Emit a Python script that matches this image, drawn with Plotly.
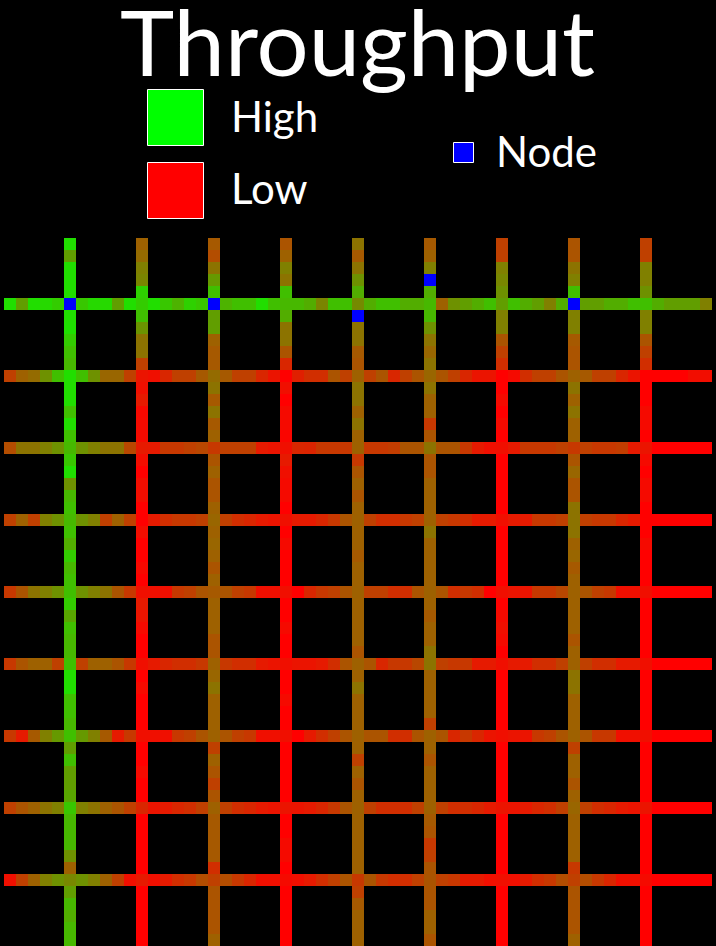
import numpy as np
import plotly.graph_objects as go

# ---------------- data: throughput (% of max, 0 = low/red, 100 = high/green) ----------------
GRID_SIZE = 59
LINE_INDEX = [5, 11, 17, 23, 29, 35, 41, 47, 53]

# horizontal links (one list per grid row, values for columns 0..58)
row05 = [87,62,87,85,80,80,78,85,85,62,87,80,87,78,70,82,78,75,70,75,75,87,75,72,72,68,52,75,75,54,
         68,75,75,68,68,72,38,57,62,68,75,62,75,68,62,50,68,62,62,62,68,68,75,75,68,62,62,62,50]
row11 = [25,38,42,57,75,87,75,57,40,40,25,8,6,15,25,25,35,42,35,25,25,15,8,0,12,18,18,33,25,38,
         25,33,15,25,33,40,33,25,15,8,8,0,4,18,25,25,33,38,35,25,25,15,8,0,0,0,0,5,5]
row17 = [30,45,45,50,57,72,57,50,45,45,28,10,10,22,22,25,28,22,25,25,25,10,8,6,15,14,22,22,22,38,
         22,22,24,33,33,45,33,33,22,10,6,6,10,22,22,22,25,22,25,22,22,24,10,8,0,0,0,0,0]
row23 = [25,38,25,50,57,72,57,50,25,38,25,0,10,18,22,22,25,40,25,18,15,10,8,6,10,10,15,22,33,38,
         25,18,18,22,25,38,25,22,18,10,10,6,10,10,22,22,25,45,25,22,22,15,10,0,0,0,0,0,0]
row29 = [22,33,45,50,57,75,57,50,45,33,22,6,6,6,22,25,33,35,33,25,22,6,6,6,0,15,22,25,33,38,
         25,25,18,18,33,38,33,18,22,18,0,6,8,8,22,22,28,38,33,25,22,6,6,6,0,0,0,0,0]
row35 = [22,33,38,38,25,75,25,38,38,33,22,6,10,15,18,18,22,38,22,18,18,10,8,6,8,8,10,18,33,38,
         33,15,22,22,28,45,25,22,22,10,10,6,10,10,18,18,25,38,25,18,18,10,10,6,0,0,0,0,0]
row41 = [22,10,35,50,60,75,60,50,35,10,22,6,6,6,22,25,33,38,33,25,22,6,6,6,0,10,18,25,33,38,
         33,33,18,18,33,38,33,15,22,15,8,6,8,8,22,25,33,38,33,22,22,6,6,6,0,0,0,0,0]
row47 = [25,33,38,45,50,78,50,45,38,33,25,15,8,10,15,18,25,38,25,18,15,10,8,8,8,10,15,22,33,38,
         25,18,18,18,25,38,25,18,18,15,10,8,8,10,15,18,25,40,25,18,15,10,8,8,0,0,0,0,0]
row53 = [6,25,38,50,57,53,57,50,38,25,6,10,6,10,18,22,30,25,30,22,15,6,6,4,6,10,18,25,33,22,
         33,22,18,18,25,33,25,22,10,10,6,6,6,10,18,22,30,25,30,22,15,6,6,4,0,0,0,0,0]

# vertical links (one list per grid column, values for rows 0..58)
col05 = [87,62,87,87,87,80,87,88,80,75,72,87,87,87,75,87,75,72,78,87,57,72,75,72,75,68,80,72,75,75,
         80,65,75,72,72,75,87,87,75,75,72,75,62,75,62,62,65,78,72,72,72,57,38,53,62,72,68,72,72]
col11 = [38,42,50,52,82,80,75,58,45,45,25,8,6,10,3,4,4,10,5,0,5,5,0,0,5,0,0,3,0,6,
         10,8,4,0,0,6,0,4,0,0,0,6,0,0,4,0,0,15,0,0,0,0,0,10,0,0,0,0,0]
col17 = [35,30,45,60,75,75,62,62,38,35,35,42,45,35,45,35,38,22,33,38,33,33,38,40,38,40,38,33,38,35,
         38,38,38,33,33,38,40,45,38,38,38,38,25,38,33,25,33,38,35,35,35,35,18,25,33,33,33,33,38]
col23 = [33,38,50,45,75,72,68,45,45,33,15,0,6,0,4,4,2,6,10,6,4,4,0,6,0,4,0,0,0,6,
         0,0,4,0,0,6,0,0,4,0,0,6,0,0,0,0,0,8,0,0,4,4,0,4,0,0,0,0,0]
col29 = [45,35,45,57,68,54,45,45,45,35,33,38,45,45,38,45,38,38,22,33,38,33,38,38,38,38,35,38,38,38,
         38,38,38,38,33,38,38,45,38,38,38,38,38,25,38,33,38,38,38,38,38,38,38,22,25,35,38,38,38]
col35 = [35,38,50,60,68,72,72,57,45,40,45,40,45,38,38,22,33,45,33,33,38,38,38,38,45,38,38,38,38,38,
         38,35,38,38,45,45,38,38,38,38,25,38,38,33,38,38,38,38,35,33,22,25,33,33,33,33,38,38,33]
col41 = [25,25,50,53,57,62,50,50,33,25,18,0,0,4,0,4,0,6,0,0,0,0,0,0,0,0,0,0,0,6,
         0,4,6,4,0,6,0,0,0,0,0,6,0,0,0,0,0,6,0,0,0,0,0,6,0,0,0,0,0]
col47 = [33,33,45,50,75,62,50,50,35,33,33,38,45,38,45,38,38,22,33,40,33,33,45,45,45,38,40,35,38,38,
         38,38,38,33,38,38,45,45,38,38,38,38,25,38,38,33,38,40,38,38,38,38,22,25,33,33,33,33,38]
col53 = [25,25,50,50,57,75,50,50,33,25,18,0,0,0,4,4,0,6,4,0,4,4,0,0,0,4,0,0,0,6,
         0,0,0,0,0,6,0,0,0,0,0,6,0,0,0,0,0,6,0,0,0,0,0,6,0,0,0,0,0]

# routers / nodes (row, column)
node_rows = [5, 5, 6, 3, 5]
node_cols = [5, 17, 29, 35, 47]

legend_labels = ["High", "Low", "Node"]
title_text = "Throughput"

# ---------------- build matrices ----------------
h_lines = [row05, row11, row17, row23, row29, row35, row41, row47, row53]
v_lines = [col05, col11, col17, col23, col29, col35, col41, col47, col53]

z = np.full((GRID_SIZE, GRID_SIZE), np.nan)
for c, vals in zip(LINE_INDEX, v_lines):
    z[:, c] = vals
for r, vals in zip(LINE_INDEX, h_lines):
    z[r, :] = vals

zn = np.full((GRID_SIZE, GRID_SIZE), np.nan)
for r, c in zip(node_rows, node_cols):
    zn[r, c] = 1

idx = list(range(GRID_SIZE))

W, H = 716, 946


def px(x):
    return x / W


def py(y):
    return 1 - y / H


fig = go.Figure()
fig.add_trace(go.Heatmap(
    z=z, x=idx, y=idx, zmin=0, zmax=100,
    colorscale=[[0, "rgb(255,0,0)"], [1, "rgb(0,255,0)"]],
    showscale=False, hoverongaps=False, xgap=0, ygap=0,
))
fig.add_trace(go.Heatmap(
    z=zn, x=idx, y=idx, zmin=0, zmax=1,
    colorscale=[[0, "rgb(0,0,255)"], [1, "rgb(0,0,255)"]],
    showscale=False, hoverongaps=False,
))

fig.update_layout(
    width=W, height=H,
    margin=dict(l=0, r=0, t=0, b=0),
    paper_bgcolor="black", plot_bgcolor="black",
    xaxis=dict(visible=False, range=[-0.5, GRID_SIZE - 0.5], domain=[px(4), px(712)], fixedrange=True),
    yaxis=dict(visible=False, range=[GRID_SIZE - 0.5, -0.5], domain=[0, 1 - 238 / H], fixedrange=True),
    showlegend=False,
)

FONT = "Lato, 'Open Sans', sans-serif"

# legend swatches
swatches = [
    (147.5, 89.5, 203.5, 145.5, "rgb(0,255,0)"),
    (147.5, 162.5, 203.5, 218.5, "rgb(255,0,0)"),
    (453.5, 142.5, 473.5, 162.5, "rgb(0,0,255)"),
]
for x0, y0, x1, y1, col in swatches:
    fig.add_shape(type="rect", xref="paper", yref="paper",
                  x0=px(x0), x1=px(x1), y0=py(y1), y1=py(y0),
                  fillcolor=col, line=dict(color="white", width=1))

fig.add_annotation(text=title_text, xref="paper", yref="paper", x=px(357), y=py(40),
                   xanchor="center", yanchor="middle", showarrow=False,
                   font=dict(family=FONT, size=92, color="white"))
for label, (lx, ly) in zip(legend_labels, [(229, 116), (229, 188), (494, 151)]):
    fig.add_annotation(text=label, xref="paper", yref="paper", x=px(lx), y=py(ly),
                       xanchor="left", yanchor="middle", showarrow=False,
                       font=dict(family=FONT, size=42, color="white"))

fig.write_html("out.html")
